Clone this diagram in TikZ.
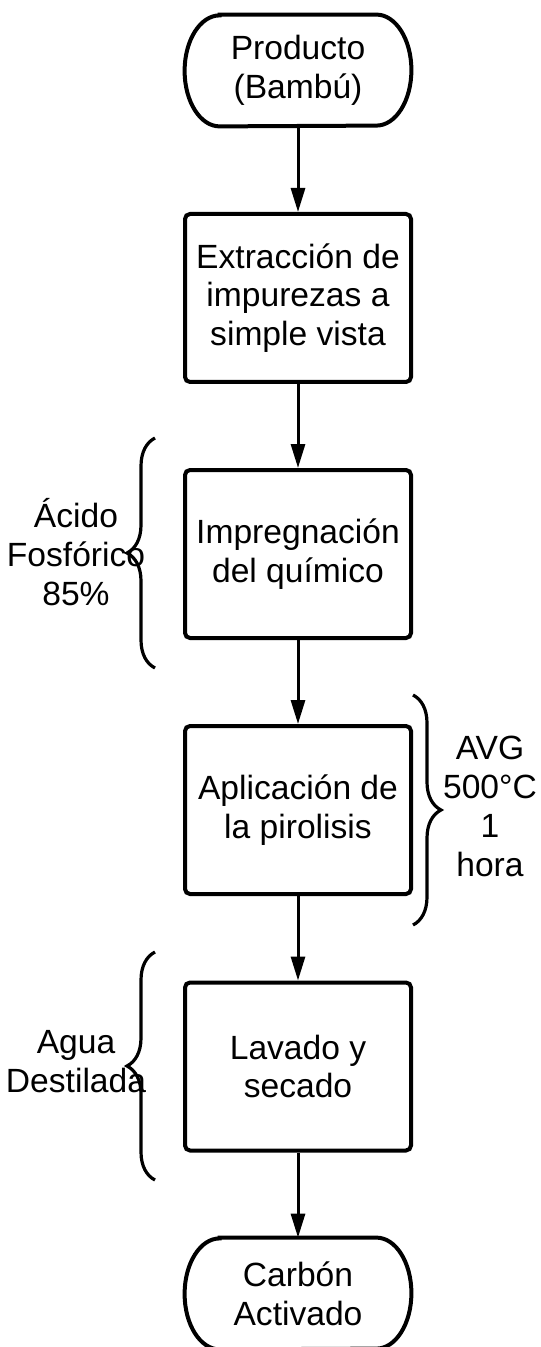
\documentclass[tikz,border=0pt]{standalone}
\usepackage{fontspec}
\setmainfont{Liberation Sans}
\usetikzlibrary{arrows.meta,decorations.pathreplacing}

\begin{document}
\begin{tikzpicture}[x=0.5pt,y=-0.5pt,
	font=\fontsize{16.8pt}{19.4pt}\selectfont,
	caja/.style={draw,line width=2pt,rounded corners=2.5pt,minimum width=113pt,minimum height=84pt,align=center,inner sep=0pt},
	term/.style={minimum width=113pt,minimum height=55.5pt,align=center,inner sep=0pt},
	borde/.style={line width=2pt},
	flecha/.style={-{Triangle[length=12pt,width=7pt]},line width=1.5pt},
	llave/.style={decorate,decoration={brace,amplitude=14pt},line width=1.6pt},
	nota/.style={align=center}]
	\clip (0,0) rectangle (540,1347);
	\node[term] (prod) at (298,70.5) {Producto\\(Bambú)};
	\node[caja] (extr) at (298,298) {Extracción de\\impurezas a\\simple vista};
	\node[caja] (impr) at (298,554) {Impregnación\\del químico};
	\node[caja] (piro) at (298,810) {Aplicación de\\la pirolisis};
	\node[caja] (lava) at (298,1066.5) {Lavado y\\secado};
	\node[term] (carb) at (298,1293.5) {Carbón\\Activado};
	
	\foreach \t in {prod,carb}
		\draw[borde] ([xshift=17.5pt]\t.north west) -- ([xshift=-17.5pt]\t.north east)
			arc[start angle=90,end angle=-90,x radius=17.5pt,y radius=27.75pt]
			-- ([xshift=17.5pt]\t.south west)
			arc[start angle=270,end angle=90,x radius=17.5pt,y radius=27.75pt] -- cycle;
	
	\draw[flecha] (prod) -- (extr);
	\draw[flecha] (extr) -- (impr);
	\draw[flecha] (impr) -- (piro);
	\draw[flecha] (piro) -- (lava);
	\draw[flecha] (lava) -- (carb);
	
	\draw[llave] (155,668) -- (155,438);
	\draw[llave] (413,695) -- (413,925);
	\draw[llave] (155,1180) -- (155,952);
	
	\node[nota] (acido) at (76,552) {Ácido\\Fosfórico\\85\%};
	\node[nota] (avg) at (490,806.5) {AVG\\500°C\\1\\hora};
	\node[nota] (agua) at (76,1061.5) {Agua\\Destilada};
\end{tikzpicture}
\end{document}
